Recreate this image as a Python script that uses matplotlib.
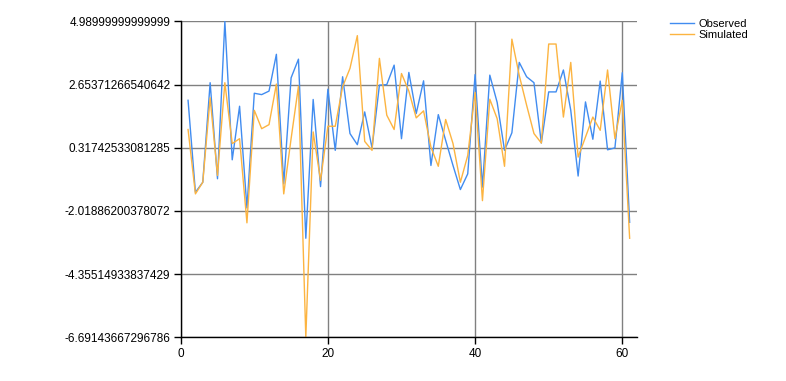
import matplotlib.pyplot as plt
import numpy as np

# values
x = list(range(1, 62))
observed = [2.07, -1.33, -0.96, 2.72, -0.83, 4.99, -0.13, 1.85, -1.91, 2.33,
            2.28, 2.41, 3.77, -1.02, 2.90, 3.59, -3.03, 2.10, -1.12, 2.48,
            0.22, 2.94, 0.84, 0.43, 1.64, 0.31, 2.63, 2.65, 3.37, 0.65,
            3.10, 1.58, 2.79, -0.34, 1.54, 0.59, -0.34, -1.23, -0.65, 3.02,
            -1.14, 3.00, 1.99, 0.22, 0.87, 3.47, 2.94, 2.72, 0.49, 2.38,
            2.38, 3.19, 1.70, -0.73, 2.01, 0.63, 2.78, 0.24, 0.31, 3.09,
            -2.44]
simulated = [0.99, -1.39, -0.96, 2.16, -0.71, 2.72, 0.47, 0.65, -2.46, 1.70,
             1.02, 1.17, 2.67, -1.39, 0.65, 2.59, -6.69, 0.90, -0.89, 1.11,
             1.11, 2.57, 3.25, 4.46, 0.55, 0.22, 3.62, 1.52, 0.99, 3.06,
             2.41, 1.42, 1.68, 0.34, -0.37, 1.36, 0.47, -0.96, 0.03, 2.36,
             -1.64, 2.11, 1.39, -0.37, 4.33, 2.99, 1.89, 0.84, 0.49, 4.15,
             4.15, 1.45, 3.47, -0.03, 0.71, 1.45, 0.96, 3.19, 0.65, 2.07,
             -3.03]
ymin = -6.69143667296786
ymax = 4.98999999999999
yticks = np.linspace(ymin, ymax, 6)
ytick_labels = ['-6.69143667296786', '-4.35514933837429', '-2.01886200378072',
                '0.31742533081285', '2.65371266540642', '4.98999999999999']

plt.rcParams['font.family'] = ['Liberation Sans', 'DejaVu Sans']
plt.rcParams['font.size'] = 8.5

fig = plt.figure(figsize=(7.86, 3.81), dpi=100)
ax = fig.add_axes([180.7 / 786, 1 - 337.3 / 381, (637 - 180.7) / 786, (337.3 - 21.3) / 381])

ax.plot(x, observed, color='#418CF0', lw=1.0, label='Observed')
ax.plot(x, simulated, color='#FCB441', lw=1.0, label='Simulated')

ax.set_xlim(0, 62)
ax.set_ylim(ymin, ymax)
ax.set_xticks([0, 20, 40, 60])
ax.set_yticks(yticks)
ax.set_yticklabels(ytick_labels)
ax.grid(True, color='#808080', lw=1.0)
ax.set_axisbelow(True)
for s in ['top', 'right']:
    ax.spines[s].set_visible(False)
for s in ['left', 'bottom']:
    ax.spines[s].set_color('black')
    ax.spines[s].set_linewidth(1.0)
ax.tick_params(axis='both', length=5, width=1, colors='black', labelsize=8.5, pad=2.5)

fig.legend(loc='upper left', bbox_to_anchor=(660 / 786, 1 - 9 / 381), frameon=False,
           handlelength=2.2, handletextpad=0.4, labelspacing=0.1, fontsize=8)

plt.savefig('out.png', dpi=100)
plt.close()
